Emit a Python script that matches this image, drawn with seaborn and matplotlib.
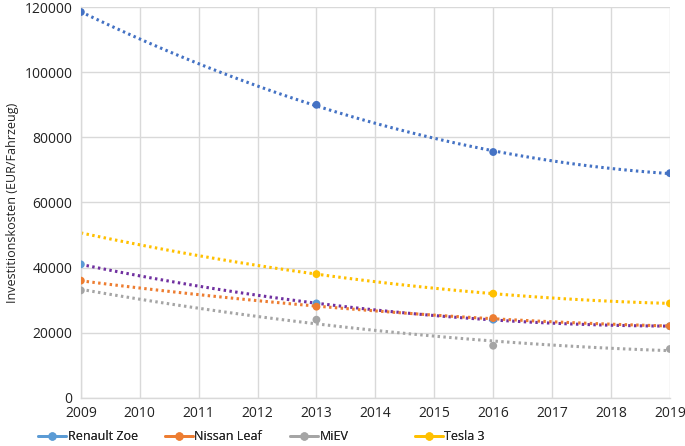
import numpy as np
import pandas as pd
import matplotlib
matplotlib.use("Agg")
import matplotlib.pyplot as plt
import seaborn as sns
from matplotlib.lines import Line2D

years = [2009, 2013, 2016, 2019]
top_series = [118500, 90000, 75500, 69000]
renault_zoe = [41000, 29000, 24000, 22000]
nissan_leaf = [36000, 28000, 24500, 22000]
miev = [33000, 24000, 16000, 15000]
tesla_years = [2013, 2016, 2019]
tesla3 = [38000, 32000, 29000]

xticks = list(range(2009, 2020))
yticks = [0, 20000, 40000, 60000, 80000, 100000, 120000]

sns.set_theme(style="whitegrid")
plt.rcParams['font.family'] = ['Open Sans', 'DejaVu Sans']

fig = plt.figure(figsize=(6.85, 4.46), dpi=100)
ax = fig.add_axes([0.118, 0.108, 0.860, 0.876])
ax.set_xlim(2009, 2019)
ax.set_ylim(0, 120000)

series = [
    ("_top", years, top_series, "#4472C4", "#4472C4"),
    ("Renault Zoe", years, renault_zoe, "#5B9BD5", "#7030A0"),
    ("Nissan Leaf", years, nissan_leaf, "#ED7D31", "#ED7D31"),
    ("MiEV", years, miev, "#A5A5A5", "#A5A5A5"),
    ("Tesla 3", tesla_years, tesla3, "#FFC000", "#FFC000"),
]

for name, xs, ys, pc, tc in series:
    df = pd.DataFrame({"x": xs, "y": ys})
    sns.regplot(data=df, x="x", y="y", order=2, ci=None, truncate=False,
                scatter=False, ax=ax,
                line_kws=dict(color=tc, lw=2.2, ls=(0, (0.8, 1.1)),
                              dash_capstyle="butt", zorder=2))
for name, xs, ys, pc, tc in series:
    df = pd.DataFrame({"x": xs, "y": ys})
    sns.scatterplot(data=df, x="x", y="y", color=pc, s=32, edgecolor="none",
                    ax=ax, zorder=3)

ax.set_xlim(2009, 2019)
ax.set_ylim(0, 120000)
ax.set_xticks(xticks)
ax.set_xticklabels([str(t) for t in xticks])
ax.set_yticks(yticks)
ax.set_yticklabels([str(t) for t in yticks])
ax.grid(True, color="#D9D9D9", lw=1)
ax.set_facecolor("white")
for s in ["top", "right"]:
    ax.spines[s].set_visible(False)
for s in ["left", "bottom"]:
    ax.spines[s].set_color("#D9D9D9")
    ax.spines[s].set_linewidth(1)
ax.tick_params(axis="both", labelsize=10, colors="#222222", length=0, pad=6)
ax.set_xlabel("")
ax.set_ylabel("Investitionskosten (EUR/Fahrzeug)", fontsize=9, color="#222222")

legend_x = [0.056, 0.241, 0.424, 0.606]
entries = [s for s in series if not s[0].startswith("_")]
for (name, xs, ys, pc, tc), lx in zip(entries, legend_x):
    h = Line2D([0], [0], color=pc, lw=2, marker="o", markersize=5)
    lg = fig.legend([h], [name], loc="center left", bbox_to_anchor=(lx, 0.021),
                    frameon=False, fontsize=9, handlelength=2.2,
                    handletextpad=0.15, borderpad=0, borderaxespad=0)
    fig.add_artist(lg)

fig.savefig("out.png", dpi=100, facecolor="white")
